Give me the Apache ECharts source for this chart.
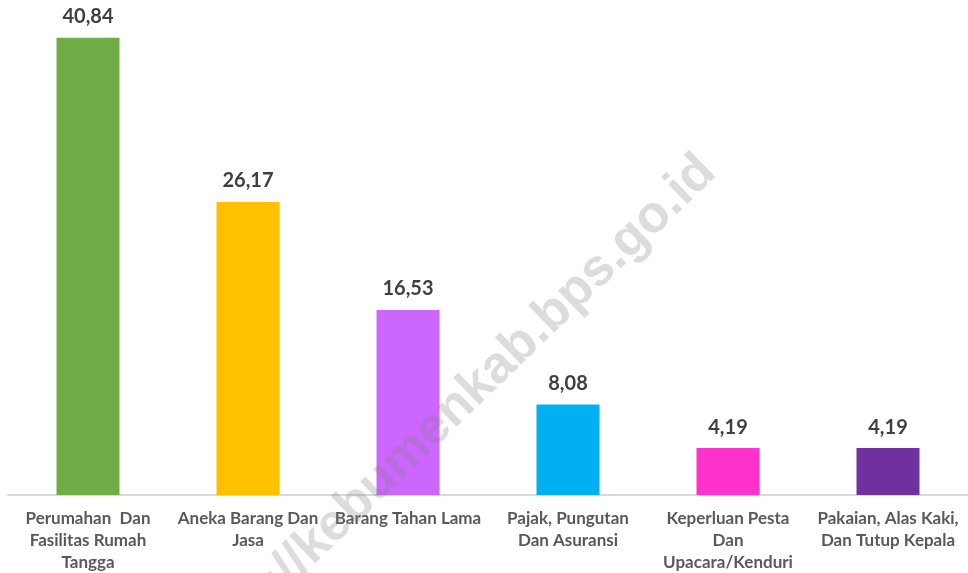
<!DOCTYPE html>
<html>
<head>
<meta charset="utf-8">
<script src="https://cdn.jsdelivr.net/npm/echarts@6/dist/echarts.min.js"></script>
<style>
  html, body { margin: 0; padding: 0; background: #fff; }
  #chart { width: 968px; height: 573px; }
</style>
</head>
<body>
<div id="chart"></div>
<script>
// kategori pengeluaran (label sumbu x, sudah dipotong per baris)
var categories = [
    'Perumahan  Dan\nFasilitas Rumah\nTangga',
    'Aneka Barang Dan\nJasa',
    'Barang Tahan Lama',
    'Pajak, Pungutan\nDan Asuransi',
    'Keperluan Pesta\nDan\nUpacara/Kenduri',
    'Pakaian, Alas Kaki,\nDan Tutup Kepala'
];
var values = [40.84, 26.17, 16.53, 8.08, 4.19, 4.19];
var barColors = ['#70AD47', '#FFC000', '#CC66FF', '#00B0F0', '#FF33CC', '#7030A0'];
var watermark = 'https://kebumenkab.bps.go.id';

var chart = echarts.init(document.getElementById('chart'));

var option = {
    animation: false,
    grid: { left: 8, right: 0, top: 0, bottom: 78, outerBoundsMode: 'none', containLabel: false },
    xAxis: {
        type: 'category',
        data: categories,
        axisLine: { lineStyle: { color: '#d9d9d9', width: 2 } },
        axisTick: { show: false },
        axisLabel: {
            interval: 0,
            margin: 13,
            color: '#595959',
            fontFamily: 'Lato',
            fontWeight: 'bold',
            fontSize: 17,
            lineHeight: 22
        }
    },
    yAxis: {
        type: 'value',
        min: 0,
        max: 44.2,
        show: false,
        splitLine: { show: false }
    },
    series: [
        {
            type: 'bar',
            barWidth: 63,
            data: values.map(function (v, i) {
                return { value: v, itemStyle: { color: barColors[i] } };
            }),
            label: {
                show: true,
                position: 'top',
                distance: 11,
                color: '#404040',
                fontFamily: 'Lato',
                fontWeight: 'bold',
                fontSize: 20,
                formatter: function (p) {
                    return p.value.toFixed(2).replace('.', ',');
                }
            }
        }
    ],
    graphic: [
        {
            type: 'text',
            x: 443,
            y: 420,
            rotation: 44 * Math.PI / 180,
            z: 100,
            style: {
                text: watermark,
                font: 'bold 52px "Liberation Sans"',
                fill: 'rgba(130,130,130,0.28)',
                align: 'center',
                verticalAlign: 'middle'
            }
        }
    ]
};

chart.setOption(option);
</script>
</body>
</html>
